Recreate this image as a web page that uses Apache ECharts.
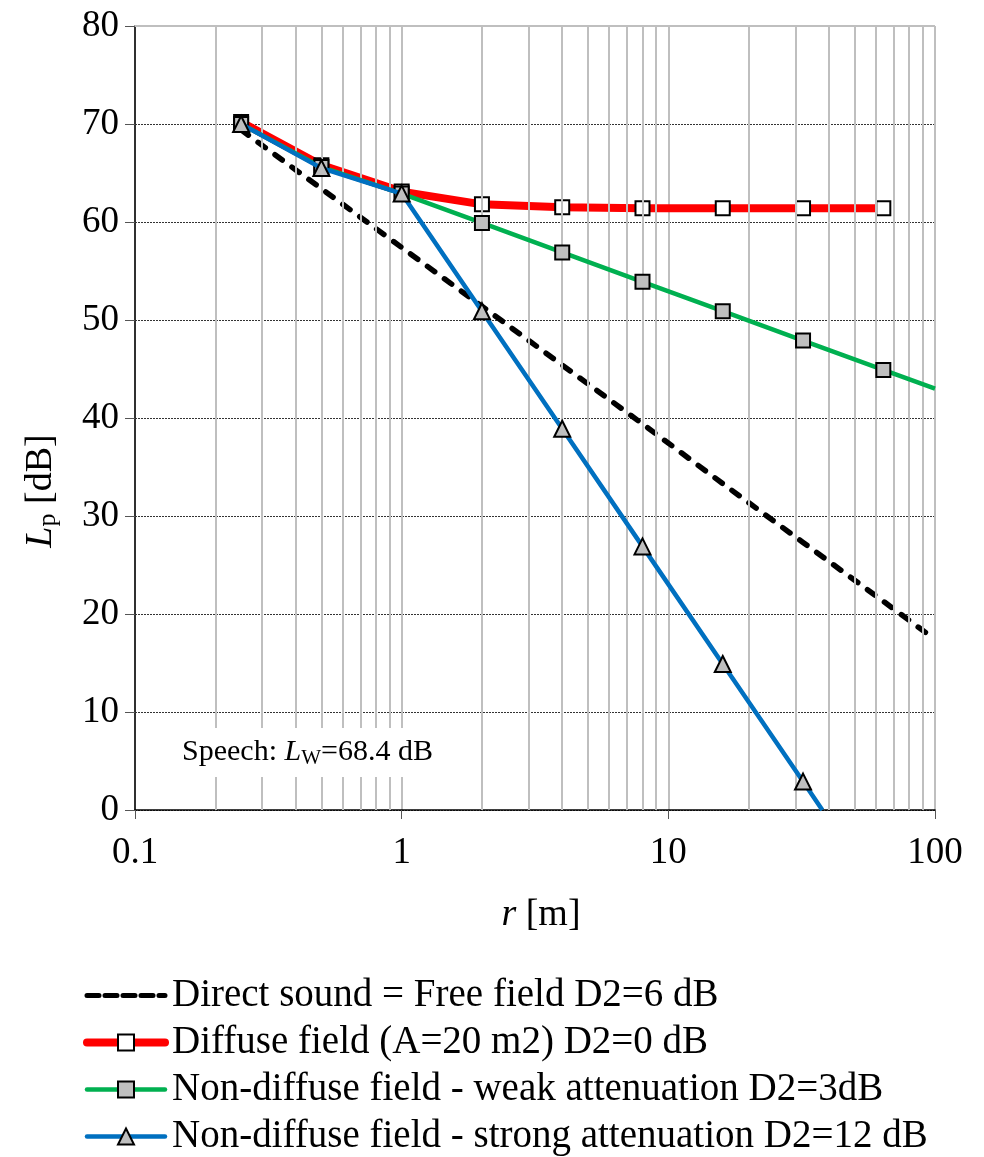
<!DOCTYPE html>
<html>
<head>
<meta charset="utf-8">
<script src="https://cdn.jsdelivr.net/npm/echarts@6/dist/echarts.min.js"></script>
<style>
  html, body { margin: 0; padding: 0; background: #fff; }
  #chart { width: 984px; height: 1157px; }
</style>
</head>
<body>
<div id="chart"></div>
<script>
// Sound pressure level vs distance for a speech source (Lw = 68.4 dB)
const seriesNames = [
  'Direct sound = Free field D2=6 dB',
  'Diffuse field (A=20 m2) D2=0 dB',
  'Non-diffuse field - weak attenuation D2=3dB',
  'Non-diffuse field - strong attenuation D2=12 dB'
];

// distances [m] with computed points
const radii = [0.25, 0.5, 1, 2, 4, 8, 16, 32, 64];

// free field (direct sound) levels, continued to the axis end at 100 m
const directR = [0.25, 0.5, 1, 2, 4, 8, 16, 32, 64, 100];
const directLp = [69.4, 63.4, 57.4, 51.4, 45.4, 39.4, 33.3, 27.3, 21.3, 17.4];

const diffuseLp = [70.2, 65.8, 63.1, 61.8, 61.5, 61.4, 61.4, 61.4, 61.4];

const weakLp = [70.0, 65.6, 62.9, 59.9, 56.9, 53.9, 50.9, 47.9, 44.9];
const weakTailR = 100, weakTailLp = 43.0;

const strongLp = [70.0, 65.5, 62.9, 50.9, 38.9, 26.9, 14.9, 2.9];
const strongTailR = 37.8, strongTailLp = 0;

// axis ticks
const xTickValues = [0.1, 1, 10, 100];
const minorGridR = [0.2, 0.3, 0.4, 0.5, 0.6, 0.7, 0.8, 0.9,
                    2, 3, 4, 5, 6, 7, 8, 9,
                    20, 30, 40, 50, 60, 70, 80, 90];
const yMin = 0, yMax = 80, yStep = 10;

const FONT = "'Liberation Serif', 'Times New Roman', serif";
const GRID_GRAY = '#bfbfbf';
const MARKER_GRAY = '#bfbfbf';

const styleDirect = { color: '#000', width: 5.5, type: [9, 12], cap: 'round', join: 'round' };
const styleDiffuse = { color: '#ff0000', width: 8 };
const styleWeak = { color: '#00b050', width: 4.5 };
const styleStrong = { color: '#0070c0', width: 4.5 };
const markerBase = { borderColor: '#000', borderWidth: 2 };

function pairs(xs, ys) { return ys.map((y, i) => [xs[i], y]); }

const chart = echarts.init(document.getElementById('chart'), null, { renderer: 'canvas' });

const option = {
  backgroundColor: '#ffffff',
  animation: false,
  grid: { left: 135, right: 49, top: 26, bottom: 347, containLabel: false },
  xAxis: {
    type: 'log',
    logBase: 10,
    min: 0.1,
    max: 100,
    name: '{i|r} [m]',
    nameLocation: 'middle',
    nameGap: 86,
    nameTextStyle: {
      fontFamily: FONT, fontSize: 38, color: '#000',
      padding: [0, 0, 0, 12],
      rich: { i: { fontFamily: FONT, fontSize: 38, fontStyle: 'italic', color: '#000' } }
    },
    axisLine: { show: true, onZero: false, lineStyle: { color: '#000', width: 1.5 } },
    axisTick: { show: true, length: 9, lineStyle: { color: '#555', width: 1 } },
    axisLabel: {
      fontFamily: FONT, fontSize: 37, color: '#000', margin: 25,
      formatter: v => (xTickValues.some(t => Math.abs(t - v) < 1e-9) ? String(v) : '')
    },
    splitLine: { show: true, lineStyle: { color: GRID_GRAY, width: 2 } }
  },
  yAxis: {
    type: 'value',
    min: yMin,
    max: yMax,
    interval: yStep,
    name: '{i|L}{sub|p} [dB]',
    nameLocation: 'middle',
    nameGap: 74,
    nameRotate: 90,
    nameTextStyle: {
      fontFamily: FONT, fontSize: 38, color: '#000',
      padding: [0, 146, 0, 0],
      rich: {
        i: { fontFamily: FONT, fontSize: 38, fontStyle: 'italic', color: '#000' },
        sub: { fontFamily: FONT, fontSize: 26, color: '#000', verticalAlign: 'bottom', padding: [14, 0, 0, 0] }
      }
    },
    axisLine: { show: true, lineStyle: { color: '#000', width: 1.5 } },
    axisTick: { show: true, length: 10, lineStyle: { color: '#555', width: 1 } },
    axisLabel: { fontFamily: FONT, fontSize: 37, color: '#000', margin: 16 },
    splitLine: { show: true, lineStyle: { color: '#333', width: 1, type: [2, 1] } }
  },
  legend: {
    orient: 'vertical',
    left: 83,
    top: 976,
    padding: 0,
    itemWidth: 78,
    itemHeight: 20,
    itemGap: 8,
    selectedMode: false,
    textStyle: { fontFamily: FONT, fontSize: 39, color: '#000', lineHeight: 38, padding: [0, 0, 0, 2] },
    data: [
      { name: seriesNames[0], lineStyle: { color: '#000', width: 5, type: [12, 6], cap: 'round' }, itemStyle: { opacity: 0 } },
      { name: seriesNames[1], lineStyle: Object.assign({}, styleDiffuse, { cap: 'round' }) },
      { name: seriesNames[2], lineStyle: Object.assign({}, styleWeak, { cap: 'round' }) },
      { name: seriesNames[3], lineStyle: Object.assign({}, styleStrong, { cap: 'round' }) }
    ]
  },
  graphic: [
    {
      type: 'text',
      left: 172,
      top: 728,
      z: 10,
      style: {
        text: 'Speech: {i|L}{sub|W}=68.4 dB',
        fontFamily: FONT,
        fontSize: 30,
        fill: '#000',
        backgroundColor: '#fff',
        padding: [8, 10, 8, 10],
        rich: {
          i: { fontFamily: FONT, fontSize: 30, fontStyle: 'italic', fill: '#000' },
          sub: { fontFamily: FONT, fontSize: 21, fill: '#000', verticalAlign: 'bottom', padding: [12, 0, 0, 0] }
        }
      }
    }
  ],
  series: [
    {
      // minor vertical gridlines and the top border
      type: 'line',
      data: [],
      z: 1,
      silent: true,
      markLine: {
        silent: true,
        symbol: 'none',
        label: { show: false },
        animation: false,
        lineStyle: { color: GRID_GRAY, width: 2, type: 'solid' },
        data: minorGridR.map(r => ({ xAxis: r })).concat([{ yAxis: yMax }])
      }
    },
    {
      name: seriesNames[0],
      type: 'line',
      z: 3,
      data: pairs(directR, directLp),
      showSymbol: false,
      symbol: 'none',
      lineStyle: styleDirect,
      itemStyle: { color: '#000' }
    },
    {
      name: seriesNames[1],
      type: 'line',
      z: 4,
      data: pairs(radii, diffuseLp),
      symbol: 'rect',
      symbolSize: 14,
      lineStyle: styleDiffuse,
      itemStyle: Object.assign({ color: '#ffffff' }, markerBase)
    },
    {
      name: seriesNames[2],
      type: 'line',
      z: 5,
      data: pairs(radii, weakLp).concat([{ value: [weakTailR, weakTailLp], symbol: 'none' }]),
      symbol: 'rect',
      symbolSize: 14,
      lineStyle: styleWeak,
      itemStyle: Object.assign({ color: MARKER_GRAY }, markerBase)
    },
    {
      name: seriesNames[3],
      type: 'line',
      z: 6,
      data: pairs(radii, strongLp).concat([{ value: [strongTailR, strongTailLp], symbol: 'none' }]),
      symbol: 'triangle',
      symbolSize: 16,
      lineStyle: styleStrong,
      itemStyle: Object.assign({ color: MARKER_GRAY }, markerBase)
    }
  ]
};

chart.setOption(option);
</script>
</body>
</html>
